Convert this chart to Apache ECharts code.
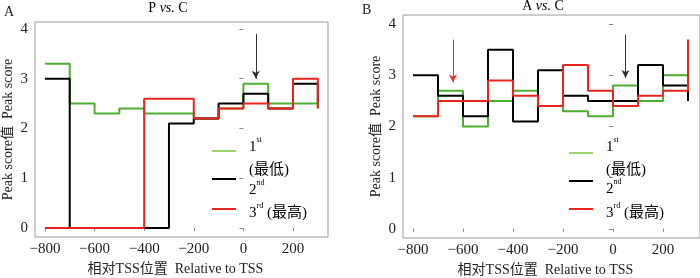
<!DOCTYPE html>
<html>
<head>
<meta charset="utf-8">
<script src="https://cdn.jsdelivr.net/npm/echarts@6/dist/echarts.min.js"></script>
<style>
  html, body { margin: 0; padding: 0; background: #fff; }
  #root { width: 700px; height: 278px; }
</style>
</head>
<body>
<div id="root"></div>
<script>
// bin starts (bp relative to TSS), each bin is 100 bp wide
var binStarts = [-800, -700, -600, -500, -400, -300, -200, -100, 0, 100, 200];
var binEnd = 300;
var xTicks = [-800, -600, -400, -200, 0, 200];
var yTicks = [0, 1, 2, 3, 4];

// panel A: P vs. C
var greenA = [3.3, 2.5, 2.3, 2.4, 2.3, 2.3, 2.2, 2.4, 2.9, 2.5, 2.5];
var blackA = [3.0, 0, 0, 0, 0, 2.1, 2.2, 2.5, 2.7, 2.4, 2.9];
var redA = [0, 0, 0, 0, 2.6, 2.6, 2.2, 2.4, 2.5, 2.4, 3.0];
var endA = [2.4, 2.5, 2.4];

// panel B: A vs. C
var greenB = [2.2, 2.7, 2.0, 2.5, 2.7, 2.4, 2.3, 2.2, 2.8, 2.5, 3.0];
var blackB = [3.0, 2.6, 2.2, 3.5, 2.1, 3.1, 2.6, 2.5, 2.5, 3.2, 2.8];
var redB = [2.2, 2.5, 2.5, 2.9, 2.6, 2.4, 3.2, 2.7, 2.4, 2.6, 2.7];
var endB = [3.0, 2.5, 3.7];

// arrows: [x, yFrom, yTo]
var arrowsA = [[50, 3.9, 3.0, '#333']];
var arrowsB = [[-640, 3.7, 2.86, '#e8332b'], [50, 3.8, 2.95, '#333']];

var GREEN = '#4caf2f', BLACK = '#000', RED = '#e8251f';
var SERIF = '"Liberation Serif", "Times New Roman", "Noto Sans CJK SC", serif';

function steps(vals, last) {
  var pts = binStarts.map(function (x, i) { return [x, vals[i]]; });
  pts.push([binEnd, last]);
  return pts;
}

function minus(v) { return String(v).replace('-', '\u2212'); }

function xAxis(gi) {
  return {
    type: 'value', gridIndex: gi, min: -840, max: gi === 0 ? 341 : 348,
    name: '相对TSS位置  Relative to TSS', nameLocation: 'middle', nameGap: 25,
    nameTextStyle: { fontFamily: SERIF, fontSize: 14, color: '#222', padding: [0, 12, 0, 0] },
    axisLine: { show: false },
    splitLine: { show: false },
    axisTick: { show: true, length: 3, customValues: xTicks, lineStyle: { color: '#888' } },
    axisLabel: { customValues: xTicks, formatter: minus, margin: 5,
      fontFamily: SERIF, fontSize: 15, color: '#222' }
  };
}

function yAxis(gi, top) {
  return {
    type: 'value', gridIndex: gi, min: -0.18, max: top,
    name: 'Peak score值  Peak score', nameLocation: 'middle', nameGap: 20,
    nameTextStyle: { fontFamily: SERIF, fontSize: 14, color: '#222' },
    axisLine: { show: false },
    splitLine: { show: false },
    axisTick: { show: true, length: 4, customValues: yTicks, lineStyle: { color: '#888' } },
    axisLabel: { customValues: yTicks, margin: 7,
      fontFamily: SERIF, fontSize: 15, color: '#222' }
  };
}

function line(gi, color, vals, last, arrows) {
  var s = {
    type: 'line', xAxisIndex: gi, yAxisIndex: gi, step: 'end',
    data: steps(vals, last), showSymbol: false, symbol: 'none',
    lineStyle: { color: color, width: 2 }, animation: false
  };
  if (arrows) {
    s.markLine = {
      silent: true, animation: false, symbolSize: [6, 8],
      label: { show: false },
      data: arrows.map(function (a) {
        return [
          { coord: [a[0], a[1]], symbol: 'none', lineStyle: { color: a[3], width: 1, type: 'solid' } },
          { coord: [a[0], a[2]], symbol: 'arrow', symbolRotate: 180 }
        ];
      })
    };
  }
  return s;
}

var rich = {
  n: { fontFamily: SERIF, fontSize: 15, color: '#222', lineHeight: 23 },
  s: { fontFamily: SERIF, fontSize: 8, color: '#222', verticalAlign: 'top', lineHeight: 23, padding: [0, 0, 6, 0] }
};

function legend(x0, yG, yK, yR, t1, t2a, t2b, t3) {
  var items = [];
  [[yG, '#7cc242', 1.5], [yK, BLACK, 2], [yR, RED, 2]].forEach(function (p) {
    items.push({ type: 'line', shape: { x1: x0, y1: p[0], x2: x0 + 24, y2: p[0] },
      style: { stroke: p[1], lineWidth: p[2] }, silent: true });
  });
  var tx = x0 + 37;
  items.push({ type: 'text', x: tx, y: t1, style: { text: '{n|1}{s|st}', rich: rich, verticalAlign: 'middle' } });
  items.push({ type: 'text', x: tx, y: t2a, style: { text: '{n|(最低)}', rich: rich, verticalAlign: 'middle' } });
  items.push({ type: 'text', x: tx, y: t2b, style: { text: '{n|2}{s|nd}', rich: rich, verticalAlign: 'middle' } });
  items.push({ type: 'text', x: tx, y: t3, style: { text: '{n|3}{s|rd}{n| (最高)}', rich: rich, verticalAlign: 'middle' } });
  return items;
}

var titleStyle = { fontFamily: SERIF, fontSize: 14, color: '#222' };

var root = document.getElementById('root');
var chart = echarts.init(root);
var option = {
  backgroundColor: '#fff',
  animation: false,
  grid: [
    { left: 35, top: 22, width: 293, height: 215, show: true, borderColor: '#999', borderWidth: 1,
      containLabel: false, outerBoundsMode: 'none' },
    { left: 403, top: 15, width: 297, height: 223, show: true, borderColor: '#999', borderWidth: 1,
      containLabel: false, outerBoundsMode: 'none' }
  ],
  xAxis: [xAxis(0), xAxis(1)],
  yAxis: [yAxis(0, 4.14), yAxis(1, 4.18)],
  series: [
    line(0, GREEN, greenA, endA[0]),
    line(0, BLACK, blackA, endA[1], arrowsA),
    line(0, RED, redA, endA[2]),
    line(1, GREEN, greenB, endB[0]),
    line(1, BLACK, blackB, endB[1], arrowsB),
    line(1, RED, redB, endB[2])
  ],
  graphic: [
    { type: 'text', x: 4, y: 12, style: { text: 'A', fontFamily: SERIF, fontSize: 14, fill: '#222', verticalAlign: 'middle' } },
    { type: 'text', x: 362, y: 10, style: { text: 'B', fontFamily: SERIF, fontSize: 14, fill: '#222', verticalAlign: 'middle' } },
    { type: 'text', x: 168, y: 8, style: { text: '{r|P }{i|vs.}{r| C}', align: 'center', verticalAlign: 'middle',
      rich: { r: titleStyle, i: { fontFamily: SERIF, fontSize: 14, color: '#222', fontStyle: 'italic' } } } },
    { type: 'text', x: 543, y: 6, style: { text: '{r|A }{i|vs.}{r| C}', align: 'center', verticalAlign: 'middle',
      rich: { r: titleStyle, i: { fontFamily: SERIF, fontSize: 14, color: '#222', fontStyle: 'italic' } } } }
  ].concat(legend(212, 151, 179, 209, 147, 170, 190, 213))
   .concat(legend(569, 153, 181, 209, 147, 170, 189, 213))
};
chart.setOption(option);
</script>
</body>
</html>
